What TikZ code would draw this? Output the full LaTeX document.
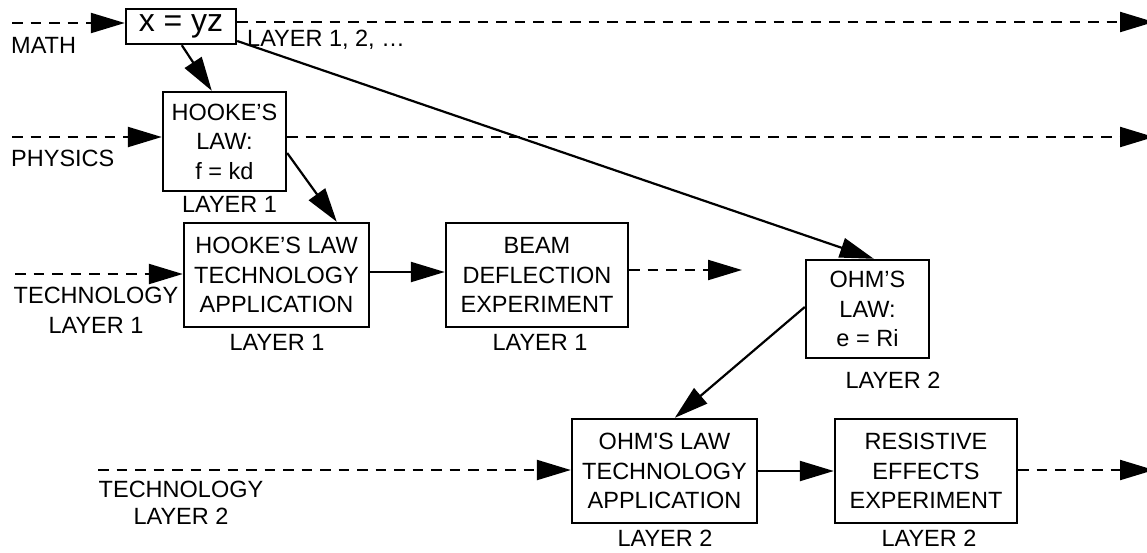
\documentclass[tikz,border=0pt]{standalone}
\usepackage{fontspec}
\setmainfont{Liberation Sans}
\usetikzlibrary{arrows.meta}
\begin{document}
\begin{tikzpicture}[x=1pt,y=-1pt,
  every node/.style={font=\fontsize{23.5}{29.5}\selectfont, inner sep=0pt},
  box/.style={draw, line width=2.4pt, align=center},
  lbl/.style={align=center},
  arr/.style={line width=2.2pt, -{Triangle[length=34pt,width=20pt]}},
  darr/.style={arr, dash pattern=on 10.5pt off 8pt}]
\useasboundingbox (0,0) rectangle (1147,552);

% boxes
\node[box, minimum width=110pt, minimum height=35pt, font=\fontsize{32}{36}\selectfont] (math) at (181,26.5) {x = yz};
\node[box, minimum width=123pt, minimum height=99pt] (hooke) at (224.5,141.5) {HOOKE’S\\LAW:\\f = kd};
\node[box, minimum width=185pt, minimum height=104pt] (htech) at (276.5,275) {HOOKE’S LAW\\TECHNOLOGY\\APPLICATION};
\node[box, minimum width=182pt, minimum height=104pt] (beam) at (537,275) {BEAM\\DEFLECTION\\EXPERIMENT};
\node[box, minimum width=123pt, minimum height=98pt] (ohm) at (867.5,309) {OHM’S\\LAW:\\e = Ri};
\node[box, minimum width=185pt, minimum height=104pt] (otech) at (664.5,471) {OHM\textquotesingle S LAW\\TECHNOLOGY\\APPLICATION};
\node[box, minimum width=182pt, minimum height=104pt] (resist) at (926,471) {RESISTIVE\\EFFECTS\\EXPERIMENT};

% labels
\node[anchor=west] (lmath) at (11,45) {MATH};
\node[anchor=west] (lall) at (247,40) {LAYER 1, 2, …};
\node[anchor=west] (lphys) at (11,158) {PHYSICS};
\node (lhooke) at (229.5,204) {LAYER 1};
\node[lbl] (ltech1) at (96,310.5) {TECHNOLOGY\\LAYER 1};
\node (lhtech) at (277,342) {LAYER 1};
\node (lbeam) at (540,342) {LAYER 1};
\node (lohm) at (893,380) {LAYER 2};
\node[lbl, font=\fontsize{23.5}{26.5}\selectfont] (ltech2) at (181,503) {TECHNOLOGY\\LAYER 2};
\node (lotech) at (665,538) {LAYER 2};
\node (lresist) at (929,538) {LAYER 2};

% free ends
\coordinate (m0) at (12,23);
\coordinate (m1) at (1154,22);
\coordinate (p0) at (12,137);
\coordinate (p1) at (1154,137);
\coordinate (t0) at (15,274);
\coordinate (b1) at (742,270);
\coordinate (t2) at (98,470);
\coordinate (r1) at (1154,470);

% dashed layer lines
\draw[darr] (m0) -- (m0 -| math.west);
\draw[darr] (math.east |- m1) -- (m1);
\draw[darr] (p0) -- (p0 -| hooke.west);
\draw[darr] (hooke.east |- p1) -- (p1);
\draw[darr] (t0) -- (t0 -| htech.west);
\draw[darr] (beam.east |- b1) -- (b1);
\draw[darr] (t2) -- (t2 -| otech.west);
\draw[darr] (resist.east |- r1) -- (r1);

% solid connectors
\draw[arr] ([xshift=57pt]math.south west) -- ([xshift=50pt]hooke.north west);
\draw[arr] ([yshift=-11.5pt]hooke.east) -- ([xshift=154pt]htech.north west);
\draw[arr] ([yshift=-14.5pt]math.east) -- ([xshift=69pt]ohm.north west);
\draw[arr] ([yshift=2pt]ohm.west) -- ([xshift=104pt]otech.north west);
\draw[arr] ([yshift=3pt]htech.east) -- ([yshift=3pt]beam.west);
\draw[arr] (otech.east) -- (resist.west);
\end{tikzpicture}
\end{document}
